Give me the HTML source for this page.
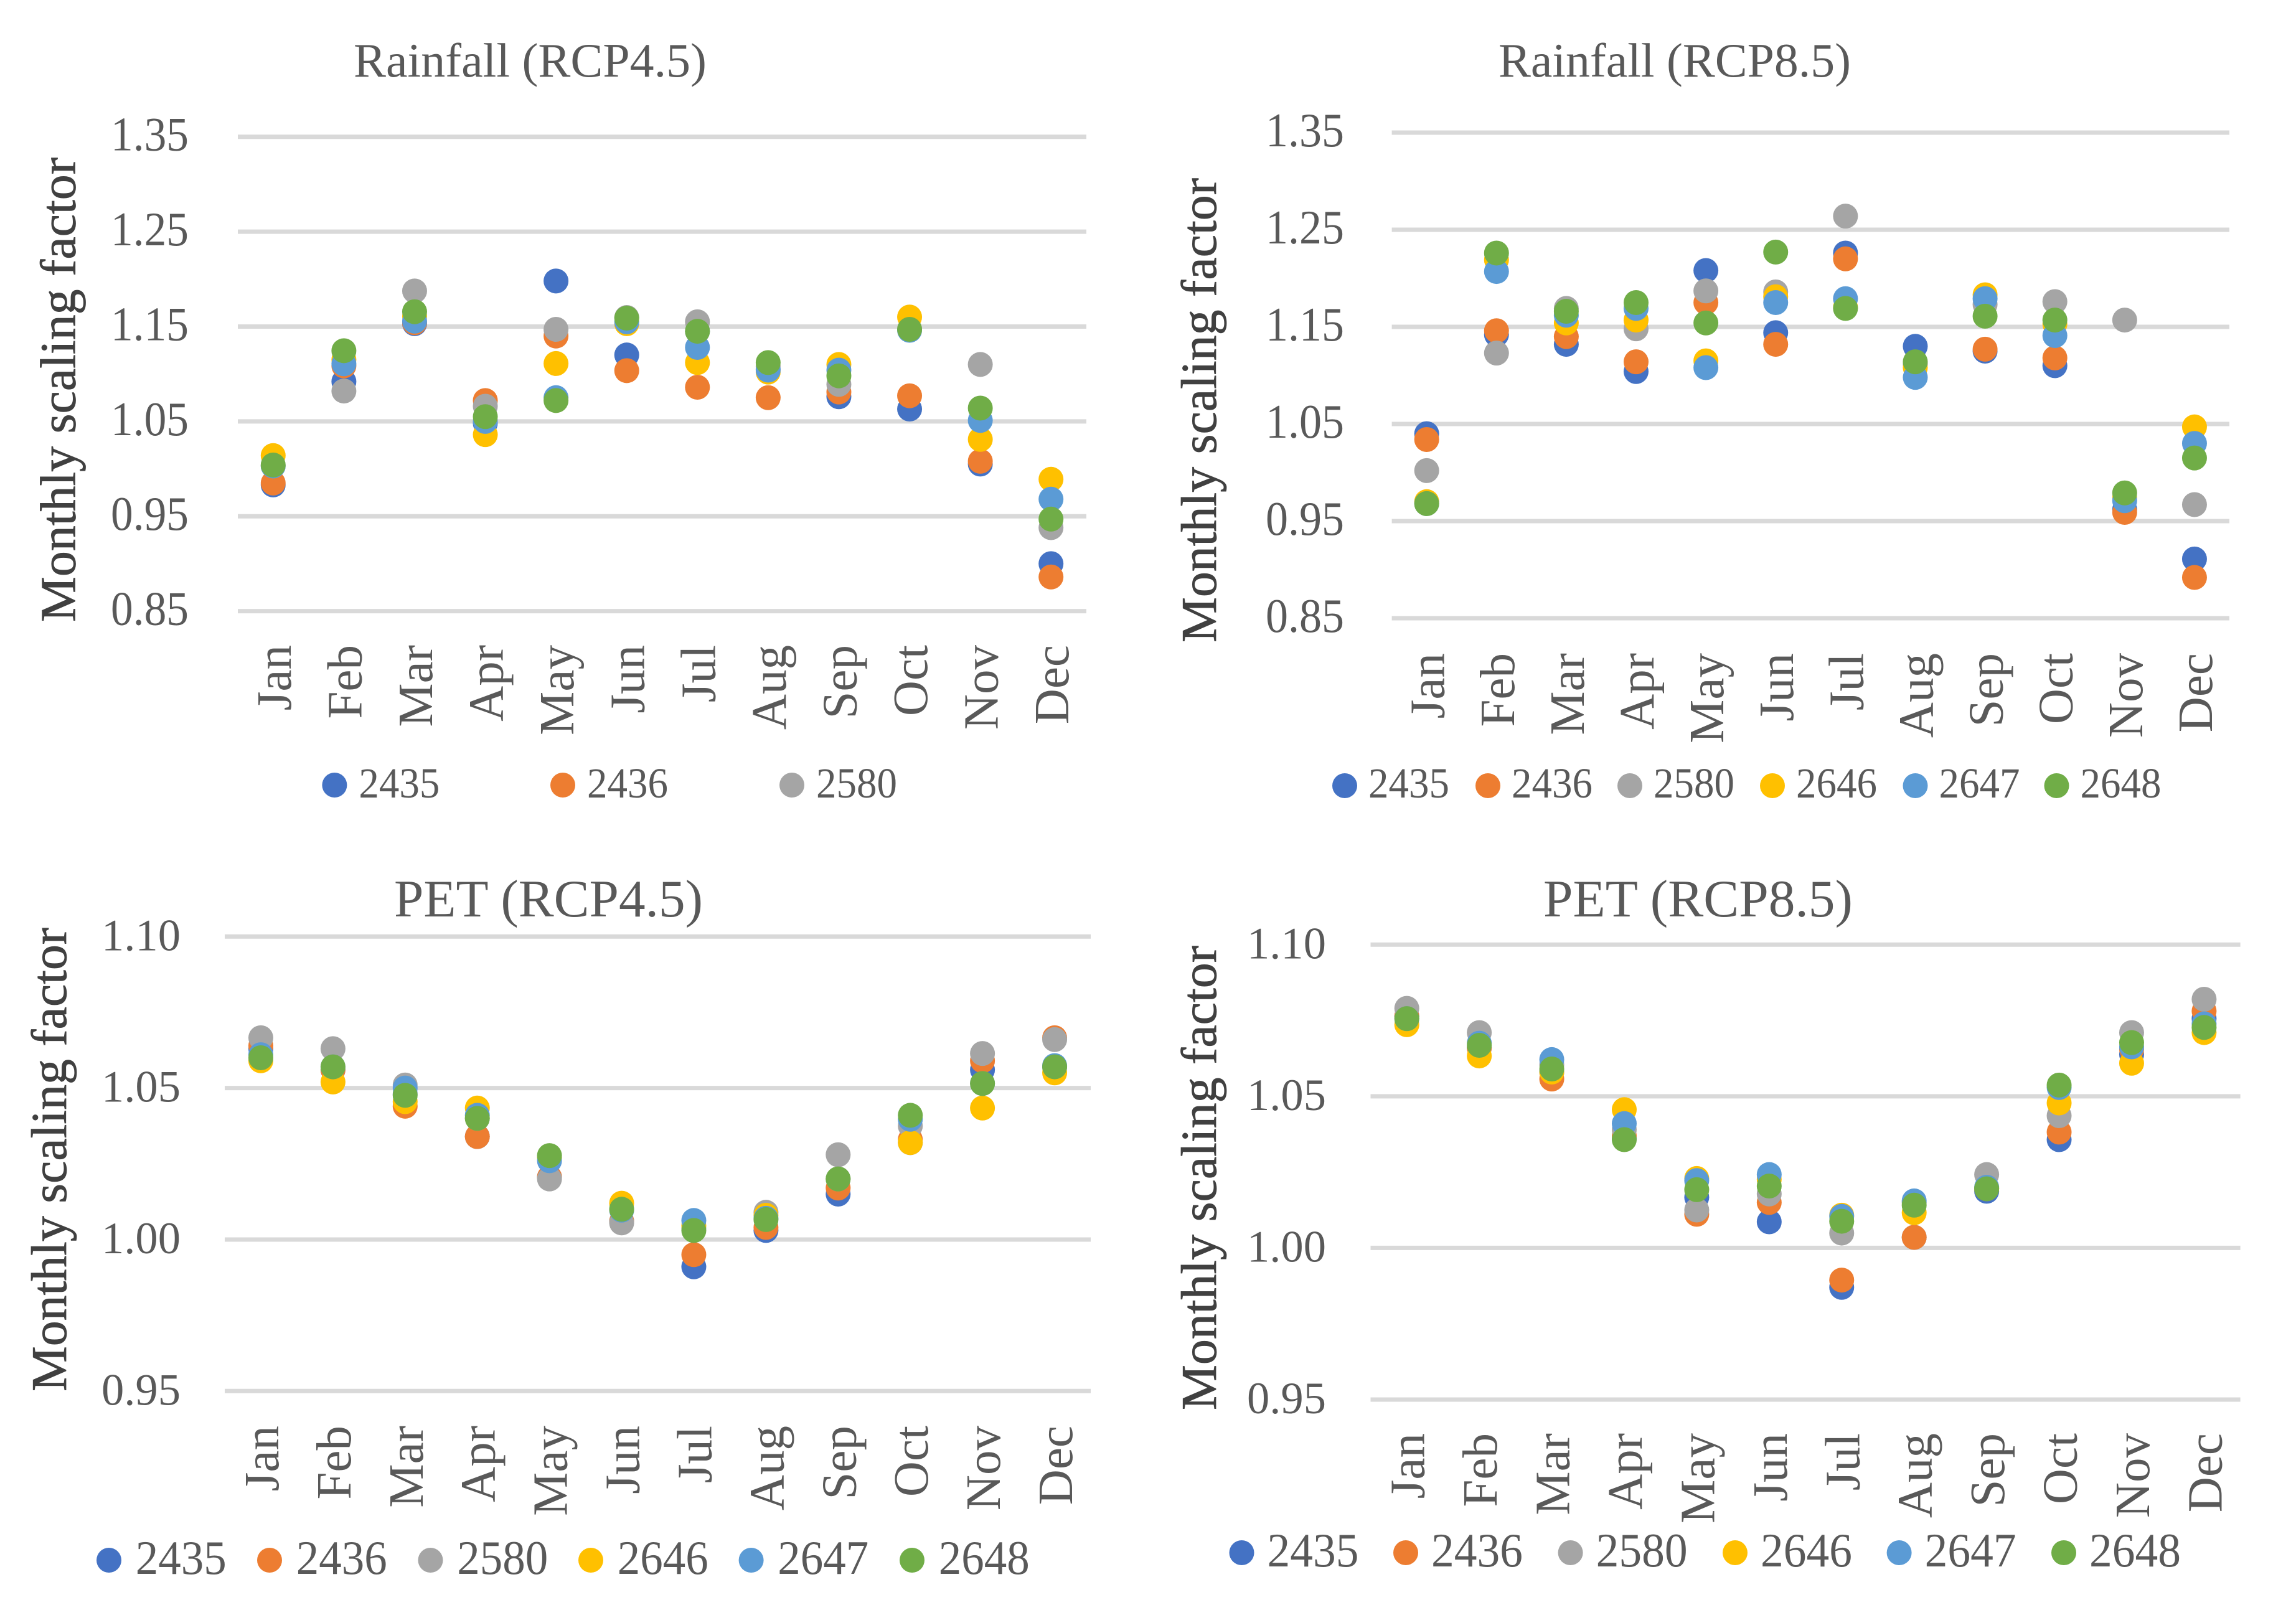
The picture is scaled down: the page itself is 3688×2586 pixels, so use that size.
<!DOCTYPE html>
<html lang="en">
<head>
<meta charset="utf-8">
<title>Monthly scaling factors for rainfall and PET</title>
<style>
  html, body { margin: 0; padding: 0; background: #fff; }
  svg { display: block; font-family: "Liberation Serif", serif; }
  .grid { stroke: #d9d9d9; stroke-width: 7; }
  .tick, .month, .legend-label, .title { fill: #595959; }
  .axis-title { fill: #404040; stroke: #404040; stroke-width: 0.8; }
</style>
</head>
<body>
<svg id="figure" xmlns="http://www.w3.org/2000/svg" width="3688" height="2586" viewBox="0 0 3688 2586">
  <rect width="3688" height="2586" fill="#ffffff"/>

  <g id="chart-a">
    <text class="title" x="568" y="123" font-size="77" textLength="567" lengthAdjust="spacingAndGlyphs">Rainfall (RCP4.5)</text>
    <text class="axis-title" transform="translate(120.5 999) rotate(-90)" font-size="80" textLength="746" lengthAdjust="spacingAndGlyphs">Monthly scaling factor</text>
  </g>
  <g id="chart-b">
    <text class="title" x="2407" y="123" font-size="77" textLength="566" lengthAdjust="spacingAndGlyphs">Rainfall (RCP8.5)</text>
    <text class="axis-title" transform="translate(1953 1032) rotate(-90)" font-size="80" textLength="746" lengthAdjust="spacingAndGlyphs">Monthly scaling factor</text>
  </g>
  <g id="chart-c">
    <text class="title" x="633" y="1472" font-size="85" textLength="496" lengthAdjust="spacingAndGlyphs">PET (RCP4.5)</text>
    <text class="axis-title" transform="translate(106 2235) rotate(-90)" font-size="80" textLength="745" lengthAdjust="spacingAndGlyphs">Monthly scaling factor</text>
  </g>
  <g id="chart-d">
    <text class="title" x="2479" y="1472" font-size="85" textLength="497" lengthAdjust="spacingAndGlyphs">PET (RCP8.5)</text>
    <text class="axis-title" transform="translate(1953 2265) rotate(-90)" font-size="80" textLength="746" lengthAdjust="spacingAndGlyphs">Monthly scaling factor</text>
  </g>
</svg>

<script>
const months = ['Jan','Feb','Mar','Apr','May','Jun','Jul','Aug','Sep','Oct','Nov','Dec'];
const seriesNames = ['2435','2436','2580','2646','2647','2648'];
const seriesColors = ['#4472C4','#ED7D31','#A5A5A5','#FFC000','#5B9BD5','#70AD47'];
const rainfallTicks = ['1.35','1.25','1.15','1.05','0.95','0.85'];
const petTicks = ['1.10','1.05','1.00','0.95'];

// Rainfall RCP4.5
const rain45_2435 = [0.983,1.092,1.153,1.048,1.198,1.120,1.145,1.105,1.076,1.063,1.005,0.900];
const rain45_2436 = [0.985,1.1085,1.154,1.072,1.140,1.1035,1.086,1.075,1.081,1.077,1.008,0.886];
const rain45_2580 = [1.003,1.082,1.1875,1.066,1.147,1.1595,1.155,1.108,1.089,1.147,1.110,0.938];
const rain45_2646 = [1.014,1.115,1.1606,1.036,1.111,1.153,1.112,1.102,1.110,1.160,1.031,0.989];
const rain45_2647 = [1.003,1.1107,1.1556,1.050,1.075,1.155,1.128,1.104,1.104,1.146,1.051,0.968];
const rain45_2648 = [1.004,1.1245,1.1656,1.055,1.072,1.1588,1.145,1.112,1.098,1.147,1.064,0.947];

// Rainfall RCP8.5
const rain85_2435 = [1.040,1.142,1.132,1.104,1.208,1.144,1.226,1.130,1.125,1.110,0.962,0.911];
const rain85_2436 = [1.034,1.146,1.140,1.114,1.175,1.132,1.220,1.112,1.127,1.118,0.959,0.892];
const rain85_2580 = [1.002,1.123,1.169,1.148,1.187,1.186,1.264,1.112,1.173,1.176,1.157,0.967];
const rain85_2646 = [0.970,1.219,1.154,1.157,1.115,1.181,1.170,1.108,1.183,1.153,0.974,1.047];
const rain85_2647 = [0.968,1.207,1.162,1.169,1.108,1.175,1.179,1.098,1.179,1.141,0.971,1.030];
const rain85_2648 = [0.968,1.226,1.166,1.175,1.154,1.227,1.169,1.114,1.161,1.157,0.979,1.015];

// PET RCP4.5
const pet45_2435 = [1.063,1.056,1.048,1.034,1.0206,1.006,0.991,1.003,1.015,1.032,1.056,1.057];
const pet45_2436 = [1.064,1.056,1.044,1.034,1.0206,1.006,0.995,1.004,1.017,1.033,1.059,1.0666];
const pet45_2580 = [1.0666,1.063,1.051,1.040,1.020,1.0055,1.0038,1.009,1.028,1.0375,1.0614,1.066];
const pet45_2646 = [1.059,1.052,1.0455,1.0434,1.027,1.012,1.0046,1.008,1.020,1.032,1.0434,1.055];
const pet45_2647 = [1.061,1.057,1.050,1.041,1.026,1.0097,1.0063,1.007,1.020,1.0397,1.0515,1.0574];
const pet45_2648 = [1.060,1.057,1.0476,1.040,1.0277,1.010,1.003,1.0066,1.020,1.041,1.0515,1.057];

// PET RCP8.5
const pet85_2435 = [1.0764,1.066,1.058,1.036,1.0167,1.0086,0.987,1.0035,1.0187,1.0357,1.0638,1.0756];
const pet85_2436 = [1.0764,1.066,1.0557,1.0369,1.0111,1.015,0.9894,1.0035,1.0195,1.0382,1.0655,1.0781];
const pet85_2580 = [1.079,1.071,1.0604,1.039,1.0125,1.0178,1.0049,1.015,1.0242,1.0436,1.071,1.082];
const pet85_2646 = [1.0736,1.0633,1.058,1.0456,1.0229,1.0226,1.0108,1.0116,1.0197,1.0478,1.0609,1.071];
const pet85_2647 = [1.0756,1.0675,1.0621,1.041,1.0222,1.0242,1.0104,1.0155,1.020,1.0529,1.0663,1.0739];
const pet85_2648 = [1.0756,1.0668,1.059,1.0357,1.0192,1.0204,1.0088,1.0141,1.0195,1.0537,1.0677,1.0727];

const NS = 'http://www.w3.org/2000/svg';

function makeEl(tag, parent, attrs, text) {
  const el = document.createElementNS(NS, tag);
  for (const k in attrs) el.setAttribute(k, attrs[k]);
  if (text !== undefined) el.textContent = text;
  parent.appendChild(el);
  return el;
}

function drawChart(cfg) {
  const root = document.getElementById(cfg.id);
  const nums = cfg.ticks.map(Number);
  const max = Math.max.apply(null, nums);
  const min = Math.min.apply(null, nums);
  const yScale = v => cfg.top + (max - v) / (max - min) * (cfg.bottom - cfg.top);
  const xScale = i => cfg.left + (i + 0.5) * (cfg.right - cfg.left) / months.length;

  cfg.ticks.forEach(t => {
    const y = yScale(Number(t));
    const line = makeEl('line', root, { class: 'grid', x1: cfg.left, x2: cfg.right, y1: y, y2: y });
    
    
    const label = makeEl('text', root, { class: 'tick', x: cfg.tickRight, y: y + 22, 'text-anchor': 'end', 'font-size': cfg.tickFont, textLength: cfg.tickWidth, lengthAdjust: 'spacingAndGlyphs' }, t);
    
    
  });

  months.forEach((m, i) => {
    const label = makeEl('text', root, { class: 'month', transform: 'translate(' + (xScale(i) + 28) + ' ' + cfg.monthTop + ') rotate(-90)', 'text-anchor': 'end', 'font-size': 79 }, m);
    
    
  });

  cfg.series.forEach((values, s) => {
    values.forEach((v, i) => {
      const dot = makeEl('circle', root, { cx: xScale(i), cy: yScale(v), r: 20, fill: seriesColors[s] });
      
      
    });
  });

  cfg.legendDots.forEach((dotX, s) => {
    const key = makeEl('circle', root, { cx: dotX, cy: cfg.legendDotY, r: 20, fill: seriesColors[s] });
    
    
    const label = makeEl('text', root, { class: 'legend-label', x: dotX + cfg.legendGap, y: cfg.legendBase, 'font-size': cfg.legendFont, textLength: cfg.legendWidth, lengthAdjust: 'spacingAndGlyphs' }, seriesNames[s]);
    
    
  });
}

drawChart({
  id: 'chart-a', ticks: rainfallTicks,
  series: [rain45_2435, rain45_2436, rain45_2580, rain45_2646, rain45_2647, rain45_2648],
  left: 382, right: 1745, top: 219.7, bottom: 981.6, tickRight: 303, tickFont: 77, tickWidth: 125, monthTop: 1036,
  legendDots: [537.4, 904, 1272], legendDotY: 1261, legendBase: 1281, legendGap: 39, legendFont: 69, legendWidth: 130
});
drawChart({
  id: 'chart-b', ticks: rainfallTicks,
  series: [rain85_2435, rain85_2436, rain85_2580, rain85_2646, rain85_2647, rain85_2648],
  left: 2235.6, right: 3581, top: 213, bottom: 993, tickRight: 2159, tickFont: 77, tickWidth: 126, monthTop: 1049,
  legendDots: [2160, 2390, 2618, 2847, 3076.5, 3303.5], legendDotY: 1262, legendBase: 1281, legendGap: 38, legendFont: 69, legendWidth: 130
});
drawChart({
  id: 'chart-c', ticks: petTicks,
  series: [pet45_2435, pet45_2436, pet45_2580, pet45_2646, pet45_2647, pet45_2648],
  left: 361, right: 1752, top: 1504.3, bottom: 2234.3, tickRight: 290, tickFont: 72, tickWidth: 127, monthTop: 2290,
  legendDots: [175, 433, 691.5, 949, 1206.6, 1465], legendDotY: 2506, legendBase: 2528, legendGap: 42.7, legendFont: 77, legendWidth: 146
});
drawChart({
  id: 'chart-d', ticks: petTicks,
  series: [pet85_2435, pet85_2436, pet85_2580, pet85_2646, pet85_2647, pet85_2648],
  left: 2201.5, right: 3598.6, top: 1517.3, bottom: 2248, tickRight: 2130, tickFont: 72, tickWidth: 127, monthTop: 2302,
  legendDots: [1994.5, 2258, 2522.6, 2787, 3050.6, 3315], legendDotY: 2494, legendBase: 2516, legendGap: 41, legendFont: 77, legendWidth: 147
});
</script>
</body>
</html>
